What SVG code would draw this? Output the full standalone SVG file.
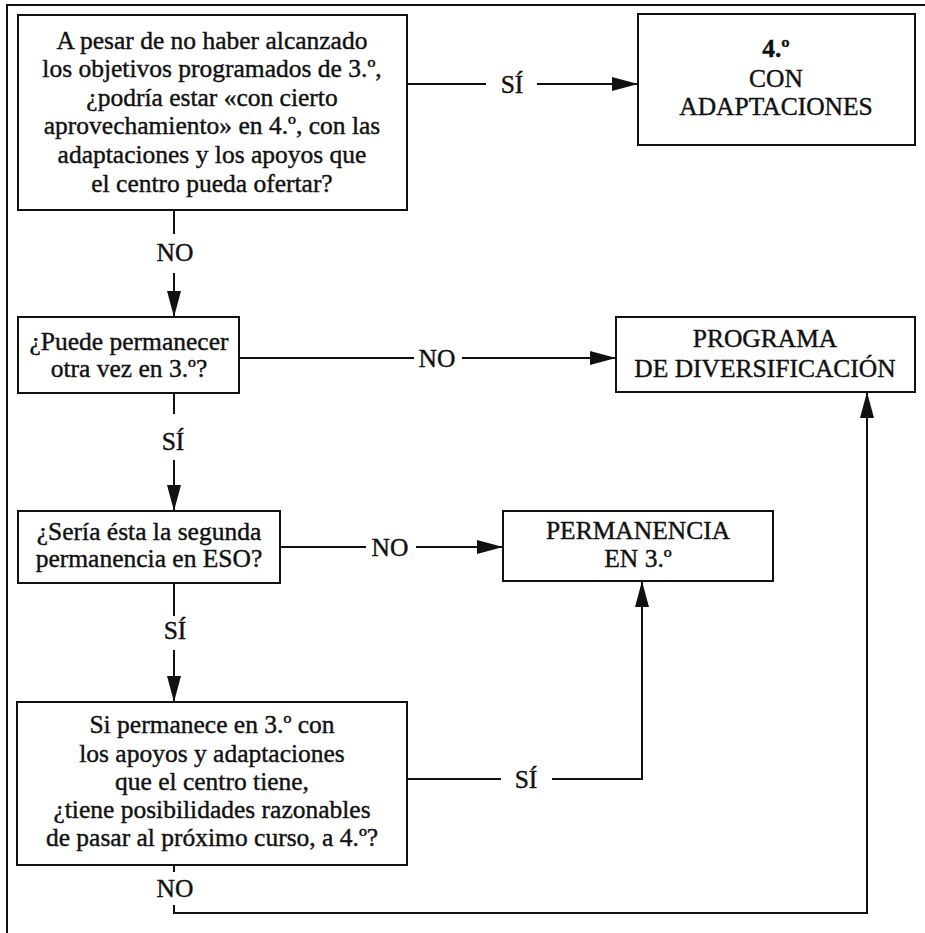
<svg xmlns="http://www.w3.org/2000/svg" width="925" height="933" viewBox="0 0 925 933" font-family="Liberation Serif, serif">
<style>
.box{fill:#fff;stroke:#111;stroke-width:2}
.t{font-family:'Liberation Serif',serif;font-size:25.5px;fill:#111;text-anchor:middle;stroke:#111;stroke-width:0.4}
.ln{fill:none;stroke:#111;stroke-width:2}
</style>
<defs>
<marker id="ah" viewBox="0 0 26 14" refX="26" refY="7" markerWidth="26" markerHeight="14" markerUnits="userSpaceOnUse" orient="auto">
<path d="M0,0 L26,7 L0,14 Z" fill="#111"/>
</marker>
</defs>
<rect width="925" height="933" fill="#fff"/>
<g id="frame">
<path class="ln" d="M925,5 L7,5 L7,933"/>
</g>
<g id="connectors">
<path class="ln" d="M407,84 L486,84"/>
<path class="ln" d="M537,84 L638,84" marker-end="url(#ah)"/>
<path class="ln" d="M174,210 L174,234"/>
<path class="ln" d="M174,273 L174,317" marker-end="url(#ah)"/>
<path class="ln" d="M239,358 L414,358"/>
<path class="ln" d="M462,358 L616,358" marker-end="url(#ah)"/>
<path class="ln" d="M174,393 L174,414"/>
<path class="ln" d="M174,460 L174,511" marker-end="url(#ah)"/>
<path class="ln" d="M280,547 L366,547"/>
<path class="ln" d="M416,547 L503,547" marker-end="url(#ah)"/>
<path class="ln" d="M174,583 L174,616"/>
<path class="ln" d="M174,650 L174,702" marker-end="url(#ah)"/>
<path class="ln" d="M407,779 L501,779"/>
<path class="ln" d="M552,779 L642,779 L642,581" marker-end="url(#ah)"/>
<path class="ln" d="M174,865 L174,872"/>
<path class="ln" d="M174,905 L174,913 L867,913 L867,392" marker-end="url(#ah)"/>
<text class="t" x="512" y="93">SÍ</text>
<text class="t" x="175" y="261">NO</text>
<text class="t" x="437" y="367">NO</text>
<text class="t" x="173" y="450">SÍ</text>
<text class="t" x="390" y="556">NO</text>
<text class="t" x="175" y="639">SÍ</text>
<text class="t" x="526" y="788">SÍ</text>
<text class="t" x="175" y="897">NO</text>
</g>
<g id="n1">
<rect class="box" x="18" y="15" width="389" height="195"/>
<text class="t" x="212" y="49">A pesar de no haber alcanzado</text>
<text class="t" x="212" y="77">los objetivos programados de 3.º,</text>
<text class="t" x="212" y="106">¿podría estar «con cierto</text>
<text class="t" x="212" y="134">aprovechamiento» en 4.º, con las</text>
<text class="t" x="212" y="163">adaptaciones y los apoyos que</text>
<text class="t" x="212" y="192">el centro pueda ofertar?</text>
</g>
<g id="n2">
<rect class="box" x="638" y="14" width="277" height="131"/>
<text class="t" x="776" y="57" font-weight="bold">4.º</text>
<text class="t" x="776" y="87">CON</text>
<text class="t" x="776" y="115">ADAPTACIONES</text>
</g>
<g id="n3">
<rect class="box" x="18" y="317" width="221" height="76"/>
<text class="t" x="129" y="350">¿Puede permanecer</text>
<text class="t" x="129" y="377">otra vez en 3.º?</text>
</g>
<g id="n4">
<rect class="box" x="616" y="317" width="299" height="75"/>
<text class="t" x="765" y="347">PROGRAMA</text>
<text class="t" x="765" y="377">DE DIVERSIFICACIÓN</text>
</g>
<g id="n5">
<rect class="box" x="18" y="511" width="262" height="72"/>
<text class="t" x="149" y="540">¿Sería ésta la segunda</text>
<text class="t" x="149" y="567">permanencia en ESO?</text>
</g>
<g id="n6">
<rect class="box" x="503" y="511" width="270" height="70"/>
<text class="t" x="638" y="539">PERMANENCIA</text>
<text class="t" x="638" y="567">EN 3.º</text>
</g>
<g id="n7">
<rect class="box" x="17" y="702" width="390" height="163"/>
<text class="t" x="212" y="733">Si permanece en 3.º con</text>
<text class="t" x="212" y="762">los apoyos y adaptaciones</text>
<text class="t" x="212" y="790">que el centro tiene,</text>
<text class="t" x="212" y="818">¿tiene posibilidades razonables</text>
<text class="t" x="212" y="846">de pasar al próximo curso, a 4.º?</text>
</g>
</svg>
